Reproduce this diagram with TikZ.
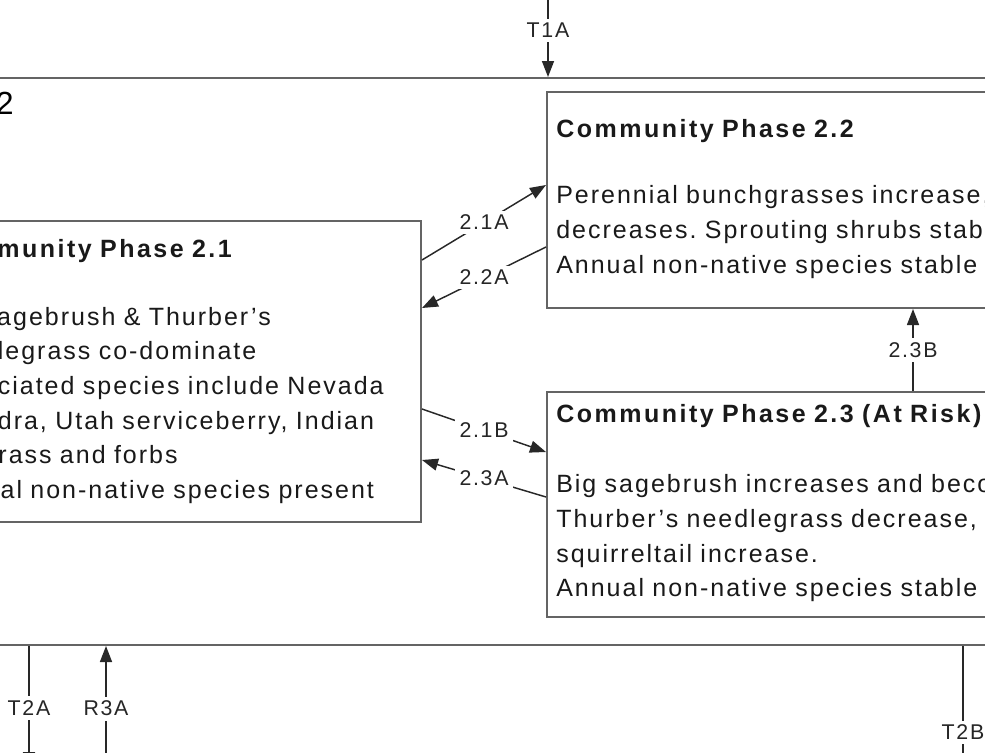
\documentclass[tikz,border=0pt]{standalone}
\usepackage{fontspec}
\setmainfont{Liberation Sans}[LetterSpace=8]
\usetikzlibrary{arrows.meta,fit}
\definecolor{boxgray}{RGB}{100,100,100}
\definecolor{arrowgray}{RGB}{40,40,40}
\newcommand\phasetitle[1]{{\addfontfeature{LetterSpace=10}\bfseries #1}}
\frenchspacing
\tikzset{
    phasebox/.style={draw=boxgray, line width=1.5pt, inner sep=0pt},
    phasetext/.style={anchor=base west, text width=700pt, align=left, inner sep=0pt,
        text=black!90, font=\fontsize{18.75}{26}\selectfont},
    trlabel/.style={fill=white, text=black!85, font=\fontsize{16}{19}\selectfont},
    transition/.style={->, draw=arrowgray, line width=1.1pt}
}
\begin{document}
\begin{tikzpicture}[x=0.75pt, y=-0.75pt, >={Triangle[length=12pt,width=9pt]}]
\useasboundingbox (0,0) rectangle (985,753);
\clip (0,0) rectangle (985,753);

\node[phasebox, fit={(-100,78) (1100,645)}] (state2) {};
\node[anchor=base east, inner sep=0pt, font=\fontsize{24}{28}\selectfont] (state2name) at (14,114) {State 2};

\node[phasebox, fit={(-75,221) (421,522)}] (p21) {};
\node[phasebox, fit={(547,92) (1100,308)}] (p22) {};
\node[phasebox, fit={(547,392) (1100,617)}] (p23) {};

\node[phasetext] (p21text) at (-66,257) {\phasetitle{Community Phase 2.1}\\[25pt]
    Big sagebrush \& Thurber's\\
    needlegrass co-dominate\\
    Associated species include Nevada\\
    ephedra, Utah serviceberry, Indian\\
    ricegrass and forbs\\
    Annual non-native species present};
\node[phasetext] (p22text) at (556,137) {\phasetitle{Community Phase 2.2}\\[24pt]
    Perennial bunchgrasses increase, big sagebrush\\
    decreases. Sprouting shrubs stable.\\
    Annual non-native species stable};
\node[phasetext] (p23text) at (556,422) {\phasetitle{Community Phase 2.3 (At Risk)}\\[27pt]
    Big sagebrush increases and becomes dominant.\\
    Thurber's needlegrass decrease, bottlebrush\\
    squirreltail increase.\\
    Annual non-native species stable};

\coordinate (t1a) at (548,-16);
\coordinate (t2a) at (29,768);
\coordinate (r3a) at (106,771);
\coordinate (t2b) at (963,819);

\draw[transition] (t1a) -- node[trlabel] (t1alabel) {T1A} (t1a |- state2.north);
\draw[transition] (p21.east |- 0,260) -- node[trlabel] (l21a) {2.1A} (p22.west |- 0,185);
\draw[transition] (p22.west |- 0,247) -- node[trlabel] (l22a) {2.2A} (p21.east |- 0,308);
\draw[transition] (p21.east |- 0,409) -- node[trlabel] (l21b) {2.1B} (p23.west |- 0,452);
\draw[transition] (p23.west |- 0,497) -- node[trlabel] (l23a) {2.3A} (p21.east |- 0,460);
\draw[transition] (p23.north -| 913,0) -- node[trlabel] (l23b) {2.3B} (p22.south -| 913,0);
\draw[transition] (state2.south -| t2a) -- node[trlabel, pos=.51] (t2alabel) {T2A} (t2a);
\draw[transition] (r3a) -- node[trlabel] (r3alabel) {R3A} (state2.south -| r3a);
\draw[transition] (state2.south -| t2b) -- node[trlabel] (t2blabel) {T2B} (t2b);
\end{tikzpicture}
\end{document}
